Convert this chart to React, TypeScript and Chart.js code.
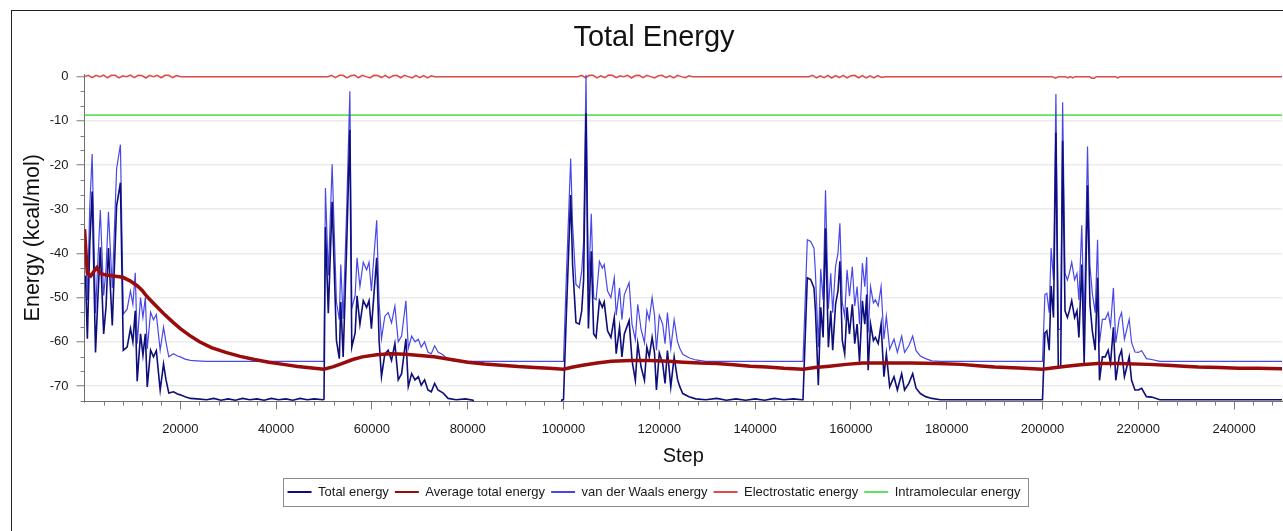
import { useEffect, useRef } from "react";
import { Chart, registerables } from "chart.js";

Chart.register(...registerables);

// Steps at which the total and van der Waals energies were sampled (one line per annealing cycle)
const STEPS = [
  200, 600, 1100, 1600, 2300, 2800, 3300, 4000, 4500, 5000, 5800, 6700, 7500, 8100, 8900, 9600, 10100, 10600, 11000, 11700, 12200, 12700, 13100, 13800, 14400, 15000, 15800, 16500, 17000, 17600, 18600, 19400, 20000, 21000, 22100, 23500, 25500, 27000, 28500, 30000, 31500, 33000, 34500, 36000, 37500, 39000, 40500, 42000, 43500, 45000, 46500, 48000, 49800,
  50000, 50300, 50900, 51700, 52600, 53200, 53500, 54000, 54700, 55400, 55800, 56500, 56900, 57500, 58200, 58900, 59400, 59900, 60400, 61000, 61500, 62000, 62700, 63400, 64100, 64800, 65500, 66200, 67100, 67600, 68300, 69000, 69700, 70300, 71000, 71700, 72400, 73100, 73800, 74900, 75900, 77600, 79500, 81100, 81600, 99300, 99700,
  100000, 100600, 101500, 101900, 102600, 103300, 103800, 104200, 104700, 105200, 105800, 106300, 106800, 107500, 108100, 108500, 109200, 109900, 110600, 111000, 111700, 112200, 112700, 113700, 114300, 115000, 115500, 116200, 116900, 117400, 117900, 118500, 119000, 119400, 120000, 120700, 121200, 121700, 122400, 123100, 123800, 124300, 124900, 126200, 127600, 129700, 132000, 134000, 136000, 138000, 140000, 142000, 144000, 146000, 148000, 149800,
  150000, 150900, 151600, 152300, 152600, 153200, 153700, 154200, 154700, 155300, 155800, 156200, 156800, 157300, 157700, 158200, 158700, 159200, 159700, 160300, 160800, 161300, 161800, 162400, 162900, 163300, 163600, 164100, 164700, 165100, 165700, 166300, 166900, 167400, 168100, 169000, 169700, 170600, 171200, 172100, 172900, 173600, 174500, 175600, 176900, 178700, 199800,
  200000, 200500, 200900, 201400, 201800, 202300, 202800, 203300, 203800, 204200, 204700, 205200, 205600, 206100, 206700, 207200, 207600, 208200, 208700, 209000, 209400, 209900, 210400, 211000, 211500, 211900, 212500, 213100, 213700, 214200, 214800, 215300, 216000, 216500, 217100, 217600, 218100, 218600, 219300, 220000, 220700, 221700, 222800, 224500, 250000,
];

// Total energy (kcal/mol)
const TOTAL_ENERGY = [
  -45, -59.3, -38, -26, -62.4, -50, -38.6, -58.2, -52, -38.8, -56.3, -29.3, -24, -61.9, -61.2, -57, -60, -53, -68.9, -58.2, -63, -58.2, -70.2, -61.9, -63.4, -62, -70.9, -65, -68.5, -71.6, -71.3, -71.8, -72, -72.4, -72.8, -72.9, -73.1, -72.8, -73.2, -72.9, -73.2, -72.8, -73.1, -72.9, -73.2, -72.8, -73.1, -72.9, -73.2, -72.8, -73.1, -72.9, -73.1,
  -73.0, -34, -53.5, -28.3, -59.7, -63.8, -51, -63.4, -39.5, -12, -61.2, -58, -49.6, -56, -50.7, -52.2, -50.7, -57, -49.6, -41, -59.7, -67.9, -62.7, -61.9, -64.2, -60.4, -68.6, -67.2, -59.3, -70.1, -67.2, -68.6, -67.9, -69.8, -68.6, -70.9, -71.3, -69.4, -70.9, -71.6, -72.8, -73.1, -72.9, -73.2, -74.5, -74.5, -73.1,
  -73.1, -53.7, -26.8, -42.5, -55.6, -56, -53, -46, -8.2, -57, -39.5, -58.2, -59, -50.7, -52.2, -51, -57.5, -59, -54.5, -62.7, -56.7, -63.4, -58.2, -55.2, -64.2, -68.7, -60.4, -65.7, -68.7, -61.2, -63.4, -59, -62.5, -70.9, -62.5, -64.9, -69.4, -62, -70.2, -63.4, -68.5, -70.2, -71.7, -72.4, -72.9, -73.1, -72.8, -73.2, -72.9, -73.2, -72.9, -73.2, -72.8, -73.1, -72.9, -73.1,
  -73.1, -45.5, -45.9, -47.8, -53, -69.8, -52.2, -59, -34.3, -61.2, -53, -61.9, -51.5, -48.5, -41.8, -59.7, -62.7, -52.2, -58.2, -51.5, -60.4, -56, -64.5, -50.7, -56, -49.3, -66.4, -56, -59.7, -59, -60.4, -56, -67.9, -62.7, -70.2, -67.9, -70.9, -67.2, -70.9, -69.4, -67.2, -70.5, -71.7, -72.4, -72.8, -73.1, -73.1,
  -73.1, -58, -57.5, -61.9, -47.4, -54.5, -12.7, -65.7, -65.7, -14.5, -53, -54.5, -53, -50.7, -54.5, -53, -59, -42.5, -64.9, -47.8, -24.6, -51.5, -57.5, -61.9, -45.5, -68.7, -63.4, -63.4, -61.9, -64.9, -56.7, -68.7, -63.4, -61.9, -67.9, -65.7, -63.4, -68.7, -70.9, -70.9, -70.5, -72.4, -72.5, -73.1, -73.1,
];

// van der Waals energy (kcal/mol)
const VDW_ENERGY = [
  -36.5, -50.6, -29.5, -17.5, -53.5, -41.5, -30.2, -49.5, -43.5, -30.6, -47.8, -20.9, -15.4, -53.7, -52.6, -48.5, -51.5, -44.4, -60.4, -50, -54.5, -50, -61.6, -53.3, -55, -53.8, -61.9, -56.7, -60, -63.4, -62.7, -63.2, -63.4, -63.9, -64.2, -64.3, -64.4, -64.4, -64.4, -64.4, -64.4, -64.4, -64.4, -64.4, -64.4, -64.4, -64.4, -64.4, -64.4, -64.4, -64.4, -64.4, -64.4,
  -64.4, -25.2, -45, -19.8, -51, -55, -42.5, -54.8, -31.3, -3.3, -52.5, -49.5, -41, -47.5, -42, -43.7, -42, -48.5, -41, -32.5, -51, -59.3, -54.2, -53.4, -55.7, -51.9, -60, -58.7, -50.7, -61.5, -58.7, -60, -59.4, -61.2, -60, -62.3, -62.7, -60.9, -62.3, -63, -64.1, -64.4, -64.4, -64.4, -64.4, -64.4, -64.4,
  -64.4, -45, -18.5, -33.6, -47, -47.8, -44, -37.3, 0.4, -48.5, -31, -50, -50.5, -41.8, -43.3, -42.5, -48.5, -50, -45.5, -54, -47.8, -55, -49.3, -46.6, -56, -59.5, -51.5, -57.2, -60.2, -53, -55, -50, -54, -61.9, -54, -56, -60.4, -53.4, -61.5, -55, -60, -61.5, -62.8, -63.6, -64.1, -64.4, -64.4, -64.4, -64.4, -64.4, -64.4, -64.4, -64.4, -64.4, -64.4, -64.4,
  -64.4, -36.9, -37.3, -38.8, -44.5, -61.2, -43.5, -50.5, -25.7, -52.5, -44.5, -53.4, -42.9, -40, -33.2, -51.2, -54.2, -43.7, -49.7, -43, -51.9, -47.5, -56, -42.2, -47.5, -40.8, -57.9, -47.5, -51.2, -50.5, -51.9, -47.5, -59.4, -54.2, -61.7, -59.4, -62.4, -58.7, -62.4, -60.9, -58.7, -62, -63.2, -63.8, -64.3, -64.4, -64.4,
  -64.4, -49.3, -49, -53.4, -38.8, -46, -3.9, -57.2, -57.2, -5.8, -44.5, -46, -44.5, -42, -46, -44.5, -50.5, -33.6, -56.4, -39.1, -15.8, -42.8, -49, -53.4, -36.9, -60.2, -54.9, -54.9, -53.4, -56.4, -47.8, -60.2, -54.9, -53.4, -59.4, -57.2, -54.9, -60.2, -62.3, -62.4, -62, -63.8, -64, -64.4, -64.4,
];

// Running average of the total energy
const AVG_STEPS = [
  0, 600, 1300, 2000, 2600, 3300, 4500, 6000, 8000, 9500,
  11000, 12000, 13000, 14500, 16500, 18500, 20000, 22000, 24000, 26500,
  29500, 32500, 35500, 38500, 41500, 44500, 47500, 50000, 52000, 54000,
  56000, 58000, 61000, 64000, 67000, 70000, 73000, 76500, 80000, 83500,
  87000, 90500, 94000, 97000, 100000, 102000, 104000, 107000, 110000, 114000,
  118000, 122000, 125000, 128500, 132000, 135500, 139000, 142500, 146000, 150000,
  152500, 155500, 159000, 162500, 167500, 172500, 178000, 183000, 186500, 190000,
  195000, 200000, 202000, 205000, 208000, 211500, 216000, 222000, 226000, 229500,
  232500, 237000, 241000, 245000, 250000,
];
const AVG_ENERGY = [
  -34.5, -44.5, -45.1, -44.0, -43.2, -44.5, -44.9, -45.1, -45.4, -46.2,
  -47.3, -48.3, -49.7, -51.4, -53.6, -55.6, -57.0, -58.6, -60.0, -61.3,
  -62.4, -63.3, -64.0, -64.6, -65.1, -65.6, -65.9, -66.2, -65.6, -64.8,
  -64.0, -63.4, -62.9, -62.7, -62.8, -63.1, -63.4, -64.0, -64.6, -65.0,
  -65.3, -65.6, -65.8, -66.0, -66.2, -65.7, -65.3, -64.8, -64.4, -64.2,
  -64.2, -64.4, -64.6, -64.8, -64.9, -65.2, -65.5, -65.7, -66.0, -66.2,
  -65.8, -65.5, -65.1, -64.8, -64.8, -64.8, -64.9, -65.1, -65.4, -65.7,
  -65.9, -66.2, -65.9, -65.5, -65.2, -64.9, -64.9, -65.1, -65.3, -65.5,
  -65.7, -65.8, -66.0, -66.0, -66.1,
];

// Electrostatic energy: flat at zero with small ripples while the ligand is moving
const ELEC_STEPS = [
  0, 800, 1600, 2400, 3200, 4000, 4800, 5600, 6400, 7200, 8000, 8800, 9600, 10400, 11200, 12000, 12800, 13600, 14400, 15200, 16000, 16800, 17600, 18400, 19200, 20200,
  50800, 51600, 52400, 53200, 54000, 54800, 55600, 56400, 57200, 58000, 58800, 59600, 60400, 61200, 62000, 62800, 63600, 64400, 65200, 66000, 66800, 67600, 68400, 69200, 70000, 70800, 71600, 72400, 73200,
  103000, 103800, 104600, 105400, 106200, 107000, 107800, 108600, 109400, 110200, 111000, 111800, 112600, 113400, 114200, 115000, 115800, 116600, 117400, 118200, 119000, 119800, 120600, 121400, 122200, 123000, 123800, 124600, 125400, 126200, 127000,
  151200, 152000, 152800, 153600, 154400, 155200, 156000, 156800, 157600, 158400, 159200, 160000, 160800, 161600, 162400, 163200, 164000, 164800, 165600, 166400, 167200,
  202000, 202700, 203400, 204800, 205300, 205800, 206300, 206800, 209800, 210300, 210800, 211300, 215200, 215700, 216200, 250000,
];
const ELEC_ENERGY = [
  0, 0.3, -0.2, 0.3, 0, 0.35, -0.25, 0.3, 0.3, -0.3, 0.2, 0, 0.35, -0.2, 0.3, 0.25, -0.3, 0.3, 0, 0.3, -0.25, 0.3, 0.3, -0.2, 0.25, 0,
  0, 0.3, -0.2, 0.3, 0.3, -0.3, 0.2, 0.35, -0.25, 0.3, 0, -0.3, 0.3, 0.25, -0.2, 0.3, -0.3, 0.2, 0.3, -0.25, 0.3, 0, -0.3, 0.3, -0.2, 0.25, -0.3, 0.2, 0,
  0, 0.3, -0.25, 0.3, 0.3, -0.3, 0.2, -0.2, 0.35, 0.3, -0.25, 0.2, 0, 0.3, -0.3, 0.25, 0.3, -0.2, 0.3, 0, -0.3, 0.2, 0.3, -0.25, 0.2, -0.3, 0.3, 0, -0.25, 0.2, 0,
  0, 0.3, -0.3, 0.2, -0.25, 0.3, -0.3, 0.25, -0.2, 0.3, -0.3, 0.2, 0.3, -0.25, 0.25, -0.3, 0.2, -0.3, 0.25, -0.2, 0,
  0, -0.35, 0, 0, -0.3, 0, -0.3, 0, 0, -0.35, -0.35, 0, 0, -0.3, 0, 0,
];

// Intramolecular energy stays constant over the run
const INTRA_STEPS = [0, 250000];
const INTRA_ENERGY = [-8.7, -8.7];

const X_TICKS = [20000, 40000, 60000, 80000, 100000, 120000, 140000, 160000, 180000, 200000, 220000, 240000];
const Y_TICKS = [-70, -60, -50, -40, -30, -20, -10, 0];

const FONT = '"Liberation Sans", Arial, sans-serif';

const toPoints = (xs: number[], ys: number[]) => xs.map((x, i) => ({ x, y: ys[i] }));

// Title and legend are centred on the whole frame, which runs past the plot's right edge
const centreOnFrame = {
  id: "centreOnFrame",
  afterLayout(chart: any) {
    for (const box of [chart.titleBlock, chart.legend]) {
      if (box) {
        box.left += 7;
        box.right += 7;
      }
    }
  },
};

// Minor tick marks on both axes plus the frame around the legend
const axisDecor = {
  id: "axisDecor",
  afterDraw(chart: any) {
    const { ctx, chartArea, scales } = chart;
    const xs = scales.x;
    const ys = scales.y;
    ctx.save();
    ctx.strokeStyle = "#7a7a7a";
    ctx.lineWidth = 1;
    ctx.beginPath();
    for (let v = 4000; v < 250000; v += 4000) {
      if (v % 20000 === 0) continue;
      const px = Math.round(xs.getPixelForValue(v)) + 0.5;
      ctx.moveTo(px, chartArea.bottom);
      ctx.lineTo(px, chartArea.bottom + 4);
    }
    for (let k = 1; k <= 22; k++) {
      if (k % 3 === 0) continue;
      const py = Math.round(ys.getPixelForValue((-k * 10) / 3)) + 0.5;
      ctx.moveTo(chartArea.left - 4, py);
      ctx.lineTo(chartArea.left, py);
    }
    ctx.stroke();

    const boxes = chart.legend?.legendHitBoxes;
    if (boxes && boxes.length) {
      const l = Math.min(...boxes.map((b: any) => b.left)) - 5;
      const r = Math.max(...boxes.map((b: any) => b.left + b.width)) + 7;
      const t = boxes[0].top - 7.5;
      const b = boxes[0].top + boxes[0].height + 7.5;
      ctx.strokeStyle = "#8c8c8c";
      ctx.strokeRect(Math.round(l) + 0.5, Math.round(t) + 0.5, Math.round(r - l), Math.round(b - t));
    }
    ctx.restore();
  },
};

export default function App() {
  const ref = useRef<HTMLCanvasElement>(null);

  useEffect(() => {
    const canvas = ref.current;
    if (!canvas) return;
    const baseLabels = (Chart.defaults as any).plugins.legend.labels.generateLabels;
    const line = { pointRadius: 0, pointHoverRadius: 0, tension: 0, fill: false };

    const chart = new Chart(canvas, {
      type: "line",
      data: {
        datasets: [
          { ...line, label: "Total energy", data: toPoints(STEPS, TOTAL_ENERGY), borderColor: "#0e0e7a", borderWidth: 1.6, order: 1, clip: 0 },
          { ...line, label: "Average total energy", data: toPoints(AVG_STEPS, AVG_ENERGY), borderColor: "#9a0c0c", borderWidth: 3.5, order: 0 },
          { ...line, label: "van der Waals energy", data: toPoints(STEPS, VDW_ENERGY), borderColor: "#4848e8", borderWidth: 1.2, order: 2 },
          { ...line, label: "Electrostatic energy", data: toPoints(ELEC_STEPS, ELEC_ENERGY), borderColor: "#e24a4a", borderWidth: 1.5, order: 3 },
          { ...line, label: "Intramolecular energy", data: toPoints(INTRA_STEPS, INTRA_ENERGY), borderColor: "#62e062", borderWidth: 1.6, order: 4 },
        ],
      } as any,
      options: {
        animation: false,
        responsive: false,
        devicePixelRatio: 1,
        events: [],
        layout: { padding: { top: 0, right: 16, bottom: 22.5, left: 0 } },
        plugins: {
          title: {
            display: true,
            text: "Total Energy",
            color: "#111",
            font: { family: FONT, size: 29, weight: "normal" },
            padding: { top: 9.5, bottom: 18.7 },
          },
          legend: {
            position: "bottom",
            labels: {
              font: { family: FONT, size: 13 },
              color: "#1a1a1a",
              usePointStyle: true,
              pointStyle: "line",
              pointStyleWidth: 24,
              padding: 6,
              sort: (a: any, b: any) => a.datasetIndex - b.datasetIndex,
              generateLabels: (c: any) => baseLabels(c).map((it: any) => ({ ...it, lineWidth: 2 })),
            },
          },
          tooltip: { enabled: false },
        },
        scales: {
          x: {
            type: "linear",
            min: 0,
            max: 250000,
            afterBuildTicks: (s: any) => {
              s.ticks = X_TICKS.map((value) => ({ value }));
            },
            afterFit: (s: any) => {
              s.height = 78;
            },
            ticks: {
              callback: (v: any) => String(v),
              font: { family: FONT, size: 13 },
              color: "#1a1a1a",
              padding: 12,
              maxRotation: 0,
              autoSkip: false,
            },
            grid: { drawOnChartArea: false, tickLength: 8, tickColor: "#7a7a7a", color: "#7a7a7a", tickWidth: 1 },
            border: { color: "#6e6e6e", width: 1 },
            title: {
              display: true,
              text: "Step",
              color: "#111",
              font: { family: FONT, size: 20 },
              padding: { top: 0, bottom: 11.5 },
            },
          },
          y: {
            type: "linear",
            min: -73.5,
            max: 0.6,
            afterBuildTicks: (s: any) => {
              s.ticks = Y_TICKS.map((value) => ({ value }));
            },
            afterFit: (s: any) => {
              s.width = 72.5;
            },
            ticks: {
              callback: (v: any) => String(v),
              font: { family: FONT, size: 13 },
              color: "#1a1a1a",
              padding: 8,
            },
            grid: { color: "#ebebeb", lineWidth: 1.5, tickLength: 8, tickColor: "#7a7a7a", tickWidth: 1 },
            border: { color: "#6e6e6e", width: 1 },
            title: {
              display: true,
              text: "Energy (kcal/mol)",
              color: "#111",
              font: { family: FONT, size: 21.5 },
              padding: { top: 8.1, bottom: 0 },
            },
          },
        },
      } as any,
      plugins: [centreOnFrame, axisDecor],
    });

    return () => chart.destroy();
  }, []);

  return (
    <div
      style={{
        position: "fixed",
        left: 0,
        top: 0,
        width: 1283,
        height: 531,
        overflow: "hidden",
        background: "#fff",
      }}
    >
      <div
        style={{
          position: "absolute",
          left: 11,
          top: 10,
          width: 1400,
          height: 700,
          borderLeft: "1px solid #222",
          borderTop: "1px solid #222",
        }}
      />
      <canvas
        ref={ref}
        width={1286}
        height={520}
        style={{ position: "absolute", left: 12, top: 11, width: 1286, height: 520 }}
      />
    </div>
  );
}
